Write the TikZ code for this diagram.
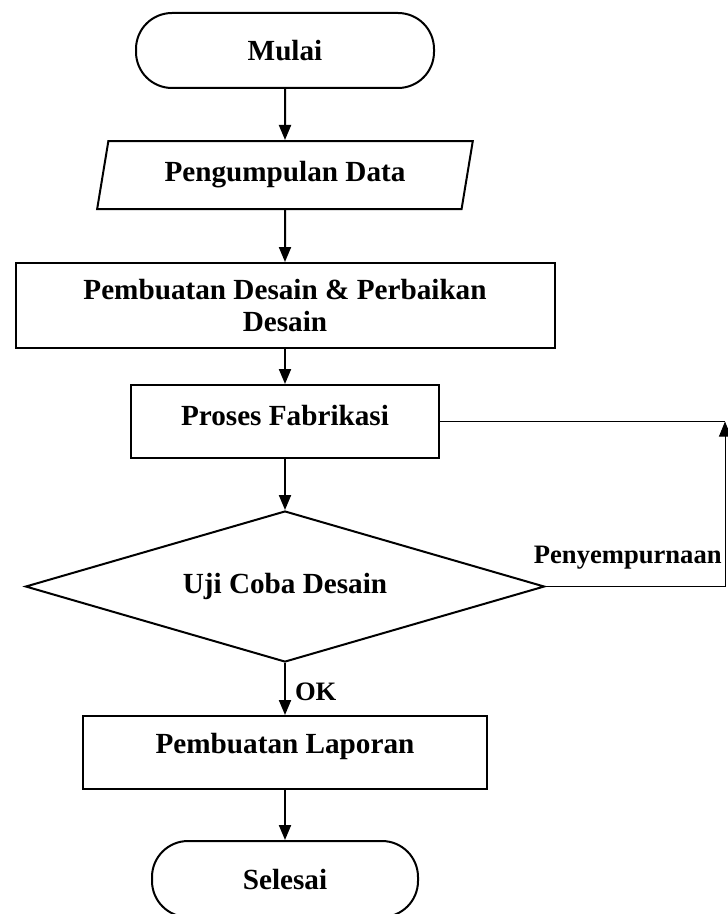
\documentclass[tikz,border=0pt]{standalone}
\usepackage{fontspec}
\setmainfont{Liberation Serif}
\usetikzlibrary{shapes.geometric, arrows.meta, positioning}

\begin{document}
\begin{tikzpicture}[
    font=\bfseries\fontsize{14.6}{16}\selectfont,
    box/.style={draw=black, rectangle, line width=1pt, align=center, inner sep=0pt},
    terminal/.style={box, rounded corners=18pt, minimum height=37.5pt},
    io/.style={draw=black, trapezium, trapezium left angle=74, trapezium right angle=106, trapezium stretches=true, line width=1pt, inner sep=0pt, minimum width=188pt, minimum height=34pt},
    decision/.style={draw=black, diamond, aspect=3.4, line width=1pt, inner sep=0pt, minimum width=259.5pt, minimum height=75.5pt},
    arrow/.style={-{Triangle[length=7.5pt, width=6pt]}, line width=1pt},
    thinline/.style={line width=0.5pt},
    lbl/.style={font=\bfseries\fontsize{13.3}{15}\selectfont, inner sep=0pt}
]
\useasboundingbox (0,0) rectangle (363.5pt,-457pt);

% alur utama
\node[terminal, minimum width=149pt] (mulai) at (142.5pt,-25.25pt) {Mulai};
\node[io, below=25.5pt of mulai] (data) {Pengumpulan Data};
\node[box, minimum width=269.5pt, minimum height=42.5pt, below=26pt of data] (desain) {Pembuatan Desain \& Perbaikan\\Desain};
\node[box, minimum width=154pt, minimum height=36.5pt, text depth=6pt, below=17.5pt of desain] (fabrikasi) {Proses Fabrikasi};
\node[decision, below=25.5pt of fabrikasi] (uji) {Uji Coba Desain};
\node[box, minimum width=202pt, minimum height=36.5pt, text depth=9pt, below=26pt of uji] (laporan) {Pembuatan Laporan};
\node[terminal, minimum width=133pt, minimum height=38pt, below=25pt of laporan] (selesai) {Selesai};

\draw[arrow] (mulai) -- (data);
\draw[arrow] (data) -- (desain);
\draw[arrow] (desain) -- (fabrikasi);
\draw[arrow] (fabrikasi) -- (uji);
\draw[arrow] (uji) -- node[lbl, anchor=west, xshift=4.5pt, yshift=-1.5pt] (ok) {OK} (laporan);
\draw[arrow] (laporan) -- (selesai);

% jalur penyempurnaan
\coordinate (kanan) at (362.5pt,0);
\coordinate (balik) at (fabrikasi.east -| kanan);
\coordinate (sudut) at (uji.east -| kanan);
\draw[thinline] (fabrikasi.east) -- (balik);
\draw[thinline, -{Triangle[length=7.5pt, width=6pt]}] (uji.east) -- (sudut) -- (balik);
\node[lbl, anchor=base east] (penyempurnaan) at ([xshift=-1.5pt, yshift=11.5pt]sudut) {Penyempurnaan};
\end{tikzpicture}
\end{document}
